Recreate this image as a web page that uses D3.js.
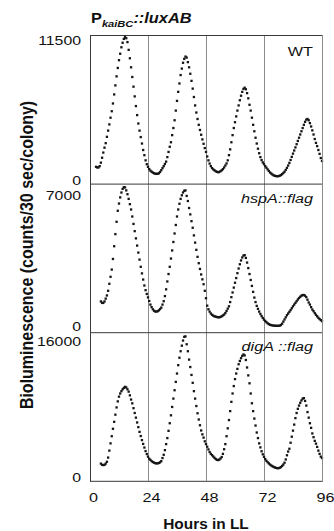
<!DOCTYPE html>
<html><head><meta charset="utf-8">
<script src="https://cdn.jsdelivr.net/npm/d3@7"></script>
<style>
html,body{margin:0;padding:0;background:#fff;}
svg{display:block;}
text{font-family:"Liberation Sans",Arial,Helvetica,sans-serif;fill:#111;}
</style></head><body>
<svg id="chart" width="334" height="531"></svg>
<script>
// ---------- data ----------
const stepHours = 0.5;
const panelLabels = ["WT", "hspA::flag", "digA ::flag"];
const panelMax = [11500, 7000, 16000];
const startHours = [2.5, 4.5, 4.5];
const xTicks = [0, 24, 48, 72, 96];
const gridHours = [24, 48, 72];

const wtValues = [
  1300,1250,1250,1350,1620,2000,2400,2780,3130,3620,
  4100,4580,5100,5600,6200,6900,7600,8300,8950,9550,
  10050,10550,10900,11200,11350,11250,10950,10350,9700,9000,
  8250,7500,6750,6000,5300,4650,4100,3600,3100,2600,
  2200,1800,1500,1300,1120,1000,920,850,800,770,
  750,760,800,900,1040,1200,1350,1520,1700,2050,
  2450,2850,3200,3750,4300,4900,5650,6400,7100,7750,
  8400,8900,9350,9650,9830,9750,9400,9000,8500,7950,
  7350,6700,6050,5500,5000,4550,4150,3780,3420,3080,
  2750,2450,2100,1800,1550,1350,1200,1100,1030,960,
  910,880,900,960,1030,1120,1250,1400,1560,1800,
  2200,2650,3200,3750,4300,4750,5200,5650,6050,6450,
  6800,7100,7330,7420,7300,7000,6600,6100,5650,5100,
  4550,4050,3550,3100,2700,2350,2050,1820,1640,1500,
  1350,1230,1100,980,860,780,700,640,600,580,
  570,580,610,660,730,820,920,1060,1220,1400,
  1600,1830,2070,2320,2560,2800,3050,3300,3550,3800,
  4050,4300,4550,4780,4950,5000,4900,4680,4420,4120,
  3800,3450,3150,2900,2600,2300,1980,1750
];
const hspAValues = [
  1450,1380,1380,1450,1580,1730,1950,2280,2610,2950,
  3450,4050,4620,5200,5720,6060,6350,6580,6750,6830,
  6820,6680,6500,6280,6030,5780,5450,5100,4760,4420,
  4080,3750,3420,3080,2770,2480,2200,1980,1800,1640,
  1470,1300,1180,1080,1010,975,970,990,1030,1090,
  1160,1300,1460,1700,2020,2390,2740,3080,3470,3850,
  4250,4650,5050,5450,5780,6050,6280,6450,6580,6660,
  6680,6420,6180,5850,5550,5230,4920,4560,4220,3880,
  3550,3250,2980,2720,2490,2260,1950,1600,1250,1080,
  970,880,820,780,750,730,715,705,700,720,
  750,790,830,900,1000,1110,1220,1420,1650,1870,
  2100,2330,2550,2780,3000,3200,3380,3520,3610,3630,
  3500,3280,3020,2740,2460,2180,1900,1630,1420,1240,
  1100,970,860,760,670,590,530,470,420,380,
  350,335,320,310,305,300,300,300,310,340,
  400,500,600,700,800,880,960,1040,1130,1220,
  1300,1380,1460,1540,1610,1670,1720,1750,1750,1720,
  1650,1530,1400,1300,1180,1070,990,900,820,750,
  680,620,570,520
];
const digAValues = [
  1850,1720,1690,1720,1850,2050,2500,3250,4030,4800,
  5600,6350,7120,7900,8550,9060,9400,9650,9850,10000,
  10120,10050,9850,9600,9200,8750,8340,7820,7300,6800,
  6280,5780,5270,4820,4380,3970,3580,3200,2880,2600,
  2380,2250,2120,2020,1960,1900,1875,1880,1920,1990,
  2120,2450,2800,3300,3950,4600,5380,6200,7050,7950,
  8850,9750,10650,11550,12450,13250,13950,14550,15100,15500,
  15550,14700,13950,13050,12250,11400,10550,9650,8850,8050,
  7270,6600,5980,5420,5000,4650,4250,3950,3670,3380,
  3100,2900,2760,2620,2480,2350,2260,2230,2280,2400,
  2560,2900,3400,3950,4800,5650,6540,7500,8500,9400,
  10200,10950,11550,12050,12550,12900,13200,13450,13600,13500,
  13010,12200,11350,10500,9400,8350,7500,6700,5950,5200,
  4600,4030,3600,3180,2850,2580,2340,2150,2000,1870,
  1750,1650,1570,1490,1430,1390,1360,1360,1400,1480,
  1600,1750,1950,2300,2750,3150,3450,4100,4750,5400,
  6050,6750,7300,7750,8100,8400,8650,8850,8900,8600,
  8100,7400,6800,6200,5700,5100,4700,4300,4000,3650,
  3250,2900,2600,2450
];
const seriesValues = [wtValues, hspAValues, digAValues];

// ---------- layout ----------
const plotLeft = 90, plotRight = 322, plotTop = 35, panelH = 148.6;
const plotBottom = plotTop + 3 * panelH;
const stretch = 1.2;
const svg = d3.select("#chart");

const x = d3.scaleLinear().domain([0, 96]).range([plotLeft, plotRight]);

// grid lines (hours 24, 48, 72)
svg.append("g").selectAll("line").data(gridHours).join("line")
  .attr("x1", d => x(d) + 0.5).attr("x2", d => x(d) + 0.5)
  .attr("y1", plotTop).attr("y2", plotBottom)
  .attr("stroke", "#8c8c8c").attr("stroke-width", 1);

const labelShiftMax = [5, 11, 9];
const labelShiftZero = [-4, -6, -4];

seriesValues.forEach((vals, p) => {
  const y0 = plotTop + p * panelH, y1 = y0 + panelH;
  const y = d3.scaleLinear().domain([0, panelMax[p]]).range([y1, y0]);
  const pts = vals.map((v, i) => [startHours[p] + i * stepHours, v]);

  // dots
  svg.append("g").selectAll("rect").data(pts).join("rect")
    .attr("x", d => x(d[0]) - 1.15).attr("y", d => y(d[1]) - 1.15)
    .attr("width", 2.3).attr("height", 2.3)
    .attr("fill", "#151515");

  // separator / top line
  svg.append("line").attr("x1", plotLeft).attr("x2", plotRight + 1)
    .attr("y1", y0 + 0.5).attr("y2", y0 + 0.5)
    .attr("stroke", "#3a3a3a").attr("stroke-width", 1);

  // y axis ticks (labels only)
  const ax = svg.append("g").attr("transform", `translate(${plotLeft},0)`)
    .call(d3.axisLeft(y).tickValues([0, panelMax[p]]).tickSize(0).tickFormat(d3.format("d")));
  ax.select(".domain").remove();
  ax.selectAll("text")
    .attr("x", 0).attr("dy", "0.36em")
    .attr("font-size", 13.2).attr("fill", "#111")
    .style("font-family", '"Liberation Sans", Arial, sans-serif')
    .attr("transform", d => `translate(-9,${d === 0 ? labelShiftZero[p] : labelShiftMax[p]}) scale(${stretch},1)`);

  // panel label
  svg.append("text")
    .attr("transform", `translate(313,${y0 + (p === 0 ? 21 : 19)}) scale(${stretch},1)`)
    .attr("text-anchor", "end").attr("font-size", 13.5)
    .attr("font-style", p === 0 ? "normal" : "italic")
    .text(panelLabels[p]);
});

// bottom line
svg.append("line").attr("x1", plotLeft).attr("x2", plotRight + 1)
  .attr("y1", plotBottom + 0.5).attr("y2", plotBottom + 0.5)
  .attr("stroke", "#3a3a3a");
// left and right borders
svg.append("line").attr("x1", plotLeft + 0.5).attr("x2", plotLeft + 0.5)
  .attr("y1", plotTop).attr("y2", plotBottom + 1).attr("stroke", "#3a3a3a");
svg.append("line").attr("x1", plotRight + 0.5).attr("x2", plotRight + 0.5)
  .attr("y1", plotTop).attr("y2", plotBottom + 1).attr("stroke", "#8c8c8c");

// x axis
const xa = svg.append("g").attr("transform", `translate(0,${plotBottom})`)
  .call(d3.axisBottom(x).tickValues(xTicks).tickSize(0));
xa.select(".domain").remove();
xa.selectAll("text")
  .attr("y", 0).attr("dy", 0)
  .attr("font-size", 13.5).attr("fill", "#111")
  .style("font-family", '"Liberation Sans", Arial, sans-serif')
  .attr("transform", `translate(3,21) scale(${stretch},1)`);

// x title
svg.append("text")
  .attr("transform", `translate(${(plotLeft + plotRight) / 2},529) scale(1.1,1)`)
  .attr("text-anchor", "middle").attr("font-size", 14).attr("font-weight", "bold")
  .text("Hours in LL");

// y title
svg.append("text")
  .attr("transform", `translate(33,255) scale(${stretch},1) rotate(-90)`)
  .attr("text-anchor", "middle").attr("font-size", 16).attr("font-weight", "bold")
  .text("Bioluminescence (counts/30 sec/colony)");

// top title P_kaiBC::luxAB
const t = svg.append("text")
  .attr("transform", `translate(91,23) scale(1.17,1)`)
  .attr("font-weight", "bold").attr("font-size", 14);
t.append("tspan").text("P");
t.append("tspan").attr("font-size", 9.5).attr("font-style", "italic").attr("dy", 3.5).text("kaiBC");
t.append("tspan").attr("font-style", "italic").attr("dy", -3.5).text("::luxAB");
</script>
</body></html>
